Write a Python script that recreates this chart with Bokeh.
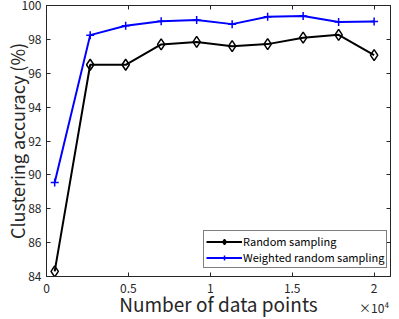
from bokeh.plotting import figure
from bokeh.models import ColumnDataSource, Range1d, FixedTicker, LinearAxis, Legend, LegendItem
from bokeh.embed import file_html
from bokeh.resources import INLINE

n_points = [500, 2667, 4833, 7000, 9167, 11333, 13500, 15667, 17833, 20000]
random_sampling = [84.3, 96.5, 96.5, 97.7, 97.85, 97.6, 97.72, 98.1, 98.27, 97.07]
weighted_sampling = [89.55, 98.25, 98.8, 99.07, 99.15, 98.9, 99.33, 99.38, 99.03, 99.05]
x_ticks = [0, 5000, 10000, 15000, 20000]
x_tick_labels = ["0", "0.5", "1", "1.5", "2\n×10⁴"]
y_ticks = [84, 86, 88, 90, 92, 94, 96, 98, 100]

FONT = "Noto Sans CJK JP"
TXT = "#262626"

src = ColumnDataSource(dict(x=n_points, r=random_sampling, w=weighted_sampling))

p = figure(width=391, height=319, output_backend="svg", toolbar_location=None,
           x_range=Range1d(0, 21000), y_range=Range1d(84, 100),
           min_border_left=39, min_border_right=1, min_border_top=5, min_border_bottom=43)
p.background_fill_color = "white"
p.border_fill_color = "white"
p.outline_line_color = TXT
p.outline_line_width = 1
p.xgrid.visible = False
p.ygrid.visible = False

p.xaxis.ticker = FixedTicker(ticks=x_ticks)
p.xaxis.major_label_overrides = {t: l for t, l in zip(x_ticks, x_tick_labels)}
p.yaxis.ticker = FixedTicker(ticks=y_ticks)

for ax in (p.xaxis[0], p.yaxis[0]):
    ax.major_tick_in = 4
    ax.major_tick_out = 0
    ax.minor_tick_line_color = None
    ax.axis_line_color = TXT
    ax.major_tick_line_color = TXT
    ax.major_label_text_font = FONT
    ax.major_label_text_font_size = "12px"
    ax.major_label_text_color = TXT
    ax.axis_label_text_font = FONT
    ax.axis_label_text_font_style = "normal"
    ax.axis_label_text_color = TXT
p.xaxis.major_label_standoff = 2
p.yaxis.major_label_standoff = 5
p.xaxis.axis_label = "Number of data points"
p.xaxis.axis_label_text_font_size = "19px"
p.xaxis.axis_label_standoff = -29
p.yaxis.axis_label = "Clustering accuracy (%)"
p.yaxis.axis_label_text_font_size = "18px"
p.yaxis.axis_label_standoff = -11

for place, ticks in (("above", x_ticks), ("right", y_ticks)):
    ax = LinearAxis(ticker=FixedTicker(ticks=ticks), major_label_text_font_size="0px",
                    major_label_standoff=0, major_tick_in=4, major_tick_out=0,
                    minor_tick_line_color=None, axis_line_color=TXT,
                    major_tick_line_color=TXT, major_label_text_color=None)
    p.add_layout(ax, place)

l1 = p.line("x", "r", source=src, line_color="black", line_width=2)
m1 = p.scatter("x", "r", source=src, marker="diamond", size=11, fill_color=None,
               line_color="black", line_width=1.5)
l2 = p.line("x", "w", source=src, line_color="#0000FF", line_width=2)
m2 = p.scatter("x", "w", source=src, marker="cross", size=8,
               line_color="#0000FF", line_width=1.5)

legend = Legend(items=[LegendItem(label="Random sampling", renderers=[l1, m1]),
                       LegendItem(label="Weighted random sampling", renderers=[l2, m2])],
                location=(157, 8), orientation="vertical",
                label_text_font=FONT, label_text_font_size="11px", label_text_color="black",
                glyph_width=36, glyph_height=13, label_height=13, label_standoff=1,
                spacing=0, padding=2, margin=0,
                border_line_color="black", border_line_width=1,
                background_fill_color="white", background_fill_alpha=1)
p.add_layout(legend, "center")

open("out.html", "w").write(file_html(p, INLINE))
